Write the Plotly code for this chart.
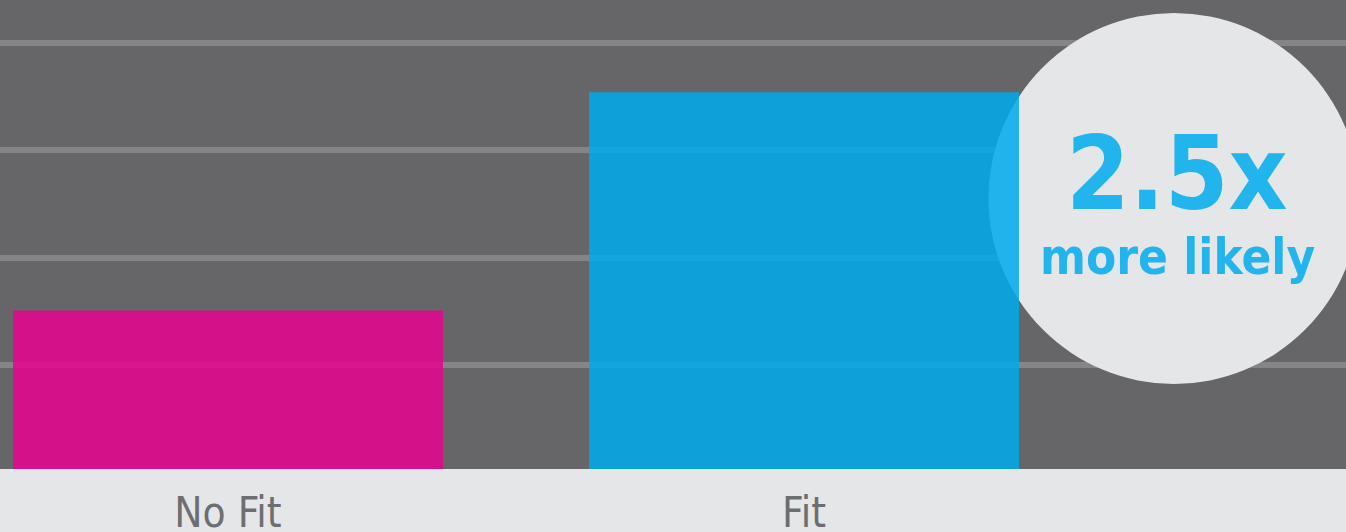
import plotly.graph_objects as go

# Share of respondents by fit group
categories = ["No Fit", "Fit"]
values = [15.1, 35.4]
bar_colors = ["rgb(231,3,141)", "rgb(0,170,235)"]
grid_values = [10, 20, 30, 40]
headline = "2.5x"
subline = "more likely"

DARK = "#666668"
LIGHT = "#e5e6e8"
ACCENT = "#22b4ec"
NARROW = "DejaVu Sans Condensed, DejaVu Sans"

fig = go.Figure()
fig.add_trace(go.Bar(
    x=categories,
    y=values,
    marker=dict(color=bar_colors, line=dict(width=0)),
    opacity=0.86,
    hoverinfo="skip",
))

# Callout disc, sized in pixels and anchored in data space
cx, cy = 1.6424, 25.52
fig.add_shape(
    type="circle",
    xref="x", yref="y",
    xsizemode="pixel", ysizemode="pixel",
    xanchor=cx, yanchor=cy,
    x0=-185.5, x1=185.5, y0=-185.5, y1=185.5,
    fillcolor=LIGHT, line=dict(width=0),
    layer="between",
)

fig.add_annotation(
    x=1.6476, y=0.629, xref="x", yref="paper",
    text=headline, showarrow=False,
    xanchor="center", yanchor="middle",
    font=dict(family=NARROW, size=102, color=ACCENT, weight="bold"),
)
fig.add_annotation(
    x=1.6476, y=0.451, xref="x", yref="paper",
    text=subline, showarrow=False,
    xanchor="center", yanchor="middle",
    font=dict(family=NARROW, size=49, color=ACCENT, weight="bold"),
)

fig.update_layout(
    width=1346, height=532,
    margin=dict(l=0, r=0, t=0, b=63),
    paper_bgcolor=LIGHT,
    plot_bgcolor=DARK,
    bargap=0.2535,
    showlegend=False,
)
fig.update_xaxes(
    type="category",
    range=[-0.3958, 1.941],
    automargin=False,
    showgrid=False, zeroline=False, showline=False,
    ticks="",
    tickfont=dict(family=NARROW, size=42, color="#6d6e71"),
    ticklabelstandoff=15,
    fixedrange=True,
)
fig.update_yaxes(
    range=[0.353, 43.98],
    tickvals=grid_values,
    showticklabels=False,
    automargin=False,
    showgrid=True, gridcolor="#858587", gridwidth=6,
    zeroline=False, showline=False,
    fixedrange=True,
)

fig.write_html("out.html")
